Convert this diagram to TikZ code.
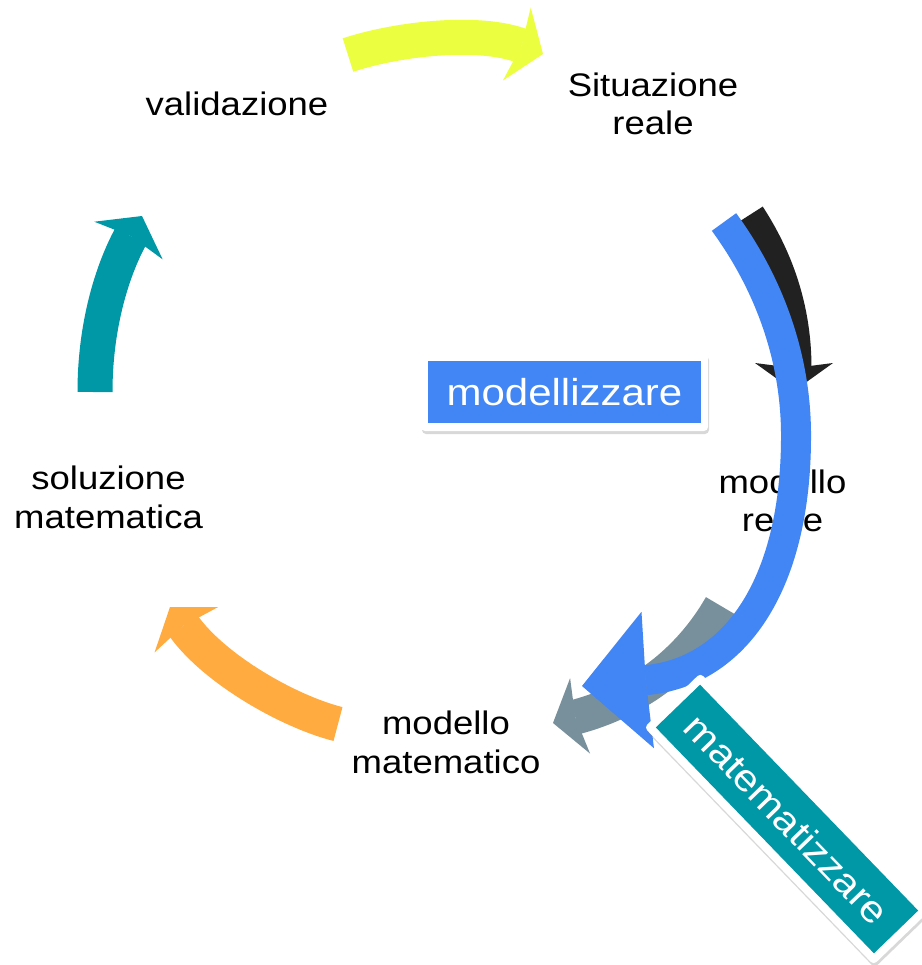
\documentclass[tikz,border=0pt]{standalone}
\usepackage{fontspec}
\setmainfont{Liberation Sans}[FakeStretch=1.12]
\usetikzlibrary{arrows.meta, shadows}
\definecolor{lemon}{HTML}{EBFE40}
\definecolor{petrol}{HTML}{0097A7}
\definecolor{amber}{HTML}{FFAB40}
\definecolor{slate}{HTML}{78909C}
\definecolor{ink}{HTML}{212121}
\definecolor{gblue}{HTML}{4285F4}

\begin{document}
\begin{tikzpicture}[
  x=0.5pt, y=-0.5pt,
  stage/.style={font=\fontsize{16.3pt}{19.15pt}\selectfont, align=center, inner sep=0pt},
  looparrow/.style={line width=17.5pt,
                    -{Stealth[length=14pt, width=39pt, inset=2.5pt, line width=0pt]}},
  bigarrow/.style={line width=15pt,
                   -{Stealth[length=33pt, width=68.5pt, inset=1pt, line width=0pt]}},
  tagframe/.style={fill=white, rounded corners=2pt, inner sep=0pt,
                   drop shadow={opacity=.3, shadow xshift=.5pt, shadow yshift=-1.5pt}},
  tagbox/.style={text=white, inner sep=0pt, font=\fontsize{18.75pt}{22pt}\selectfont},
]

% Background
\useasboundingbox (0,0) rectangle (922,965);
\fill[white] (0,0) rectangle (922,965);

% ============ Stages of the cycle ============
\node[stage] (validazione) at (237,103.5) {validazione};
\node[stage] (situazione) at (653,104) {Situazione\\reale};
\node[stage] (modreale) at (782.5,500.5) {modello\\reale};
\node[stage] (modmat) at (446,742.3) {modello\\matematico};
\node[stage] (soluzione) at (108.5,497.3) {soluzione\\matematica};

% ============ Cycle arrows ============
% validazione -> situazione
\coordinate (valout) at (348,55);
\coordinate (sitin) at (543,54);
\draw[looparrow, lemon] (valout) .. controls (400,38) and (480,30) .. (sitin);

% situazione -> modello reale
\coordinate (sitout) at (748,216);
\coordinate (realin) at (794,391);
\draw[looparrow, ink] (sitout) .. controls (770,250) and (794,300) .. (realin);

% modello reale -> modello matematico
\coordinate (realout) at (721,606);
\coordinate (matin) at (553,723);
\draw[looparrow, slate] (realout) .. controls (690,660) and (640,700) .. (matin);

% modello matematico -> soluzione
\coordinate (matout) at (338,724);
\coordinate (solin) at (170,607);
\draw[looparrow, amber] (matout) .. controls (290,712) and (215,670) .. (solin);

% soluzione -> validazione
\coordinate (solout) at (95,392);
\coordinate (valin) at (142,216);
\draw[looparrow, petrol] (solout) .. controls (95,320) and (115,265) .. (valin);

% Big blue arrow over the right side
\coordinate (bigout) at (724,222);
\coordinate (bigin) at (582,686);
\draw[bigarrow, gblue] (bigout) .. controls (770,285) and (797,360) .. (796,440)
  .. controls (795,585) and (735,672) .. (bigin);

% ============ Tags ============
\node[tagframe, minimum width=143.5pt, minimum height=39pt] (modframe) at (564.5,392) {};
\node[tagbox, fill=gblue, minimum width=136.5pt, minimum height=31pt] (modellizzare)
  at (modframe) {modellizzare};

\node[tagframe, rotate=-46, minimum width=165pt, minimum height=39pt] (matframe) at (787,819) {};
\node[tagbox, fill=petrol, rotate=-46, minimum width=157pt, minimum height=30.75pt] (matematizzare)
  at (matframe) {matematizzare};

\end{tikzpicture}
\end{document}
